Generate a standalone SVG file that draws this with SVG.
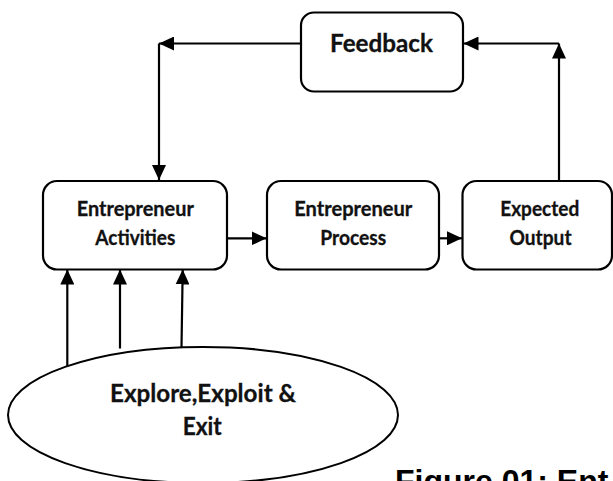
<svg xmlns="http://www.w3.org/2000/svg" width="613" height="481" viewBox="0 0 613 481">
<style>
.box{fill:#fff;stroke:#000;stroke-width:2.2}
.lbl{font-family:Lato,"Liberation Sans",sans-serif;font-weight:bold;fill:#111;text-anchor:middle;stroke:#111;stroke-width:0.3}
.s{font-size:20.5px}
.l{font-size:24.5px}
.con{fill:none;stroke:#000;stroke-width:2.2}
.cap{font-family:"Liberation Sans",Arial,sans-serif;font-weight:bold;font-size:32px;fill:#000}
</style>
<defs>
<marker id="ah" viewBox="0 0 15 14" refX="15" refY="7" markerWidth="15" markerHeight="14" markerUnits="userSpaceOnUse" orient="auto">
<path d="M0,0 L15,7 L0,14 z" fill="#000"/>
</marker>
</defs>
<rect width="613" height="481" fill="#fff"/>
<g id="feedback">
<rect class="box" x="301" y="12.5" width="162" height="79" rx="13"/>
<text class="lbl l" x="381.5" y="52.3" textLength="103" lengthAdjust="spacingAndGlyphs">Feedback</text>
</g>
<g id="activities">
<rect class="box" x="43" y="181" width="184" height="88.5" rx="14"/>
<text class="lbl s" x="135.3" y="215.5" textLength="117" lengthAdjust="spacingAndGlyphs">Entrepreneur</text>
<text class="lbl s" x="135.3" y="245" textLength="80" lengthAdjust="spacingAndGlyphs">Activities</text>
</g>
<g id="process">
<rect class="box" x="267" y="181" width="172" height="88.5" rx="14"/>
<text class="lbl s" x="353.3" y="215.5" textLength="118" lengthAdjust="spacingAndGlyphs">Entrepreneur</text>
<text class="lbl s" x="353.3" y="245" textLength="66" lengthAdjust="spacingAndGlyphs">Process</text>
</g>
<g id="output">
<rect class="box" x="462.5" y="181" width="149.5" height="88.5" rx="14"/>
<text class="lbl s" x="539.7" y="215.5" textLength="79" lengthAdjust="spacingAndGlyphs">Expected</text>
<text class="lbl s" x="540.5" y="245" textLength="62" lengthAdjust="spacingAndGlyphs">Output</text>
</g>
<g id="explore">
<ellipse cx="203" cy="415" rx="195" ry="68" fill="#fff" stroke="#000" stroke-width="2"/>
<text class="lbl l" x="203" y="402" textLength="186" lengthAdjust="spacingAndGlyphs">Explore,Exploit &amp;</text>
<text class="lbl l" x="202.2" y="435" textLength="39" lengthAdjust="spacingAndGlyphs">Exit</text>
</g>
<g id="connectors">
<path class="con" d="M301,43.5 H159" marker-end="url(#ah)"/>
<path class="con" d="M159,43.5 V180" marker-end="url(#ah)"/>
<path class="con" d="M559,181 V43.5" marker-end="url(#ah)"/>
<path class="con" d="M559,43.5 H463.5" marker-end="url(#ah)"/>
<path class="con" d="M227,238.3 H266.5" marker-end="url(#ah)"/>
<path class="con" d="M439,238.3 H462" marker-end="url(#ah)"/>
<path class="con" d="M67.3,366 V269.5" marker-end="url(#ah)"/>
<path class="con" d="M120,348.5 V269.5" marker-end="url(#ah)"/>
<path class="con" d="M181.5,347.5 L182.7,269.5" marker-end="url(#ah)"/>
</g>
<text class="cap" x="395" y="492">Figure 01: Ent</text>
</svg>
